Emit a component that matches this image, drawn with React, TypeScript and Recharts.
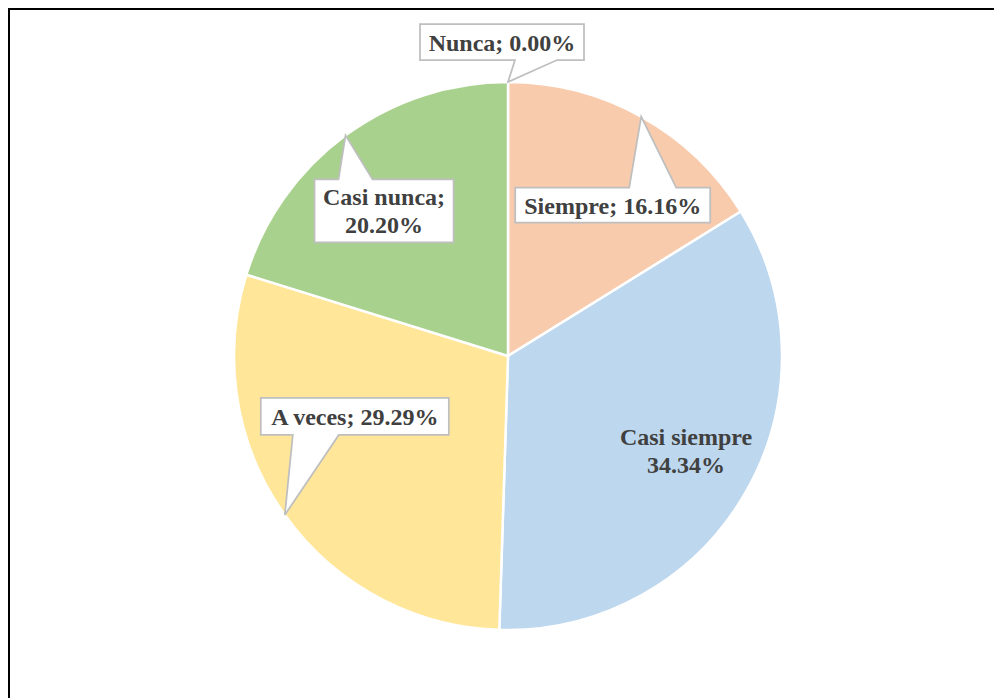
import React from 'react';
import { PieChart, Pie, Cell } from 'recharts';

const categories = ['Siempre', 'Casi siempre', 'A veces', 'Casi nunca', 'Nunca'];
const percentages = [16.16, 34.34, 29.29, 20.2, 0.0];
const colors = ['#F8CBAD', '#BDD7EE', '#FFE699', '#A9D18E', '#9DC3E6'];

const data = categories.map((name, i) => ({ name, value: percentages[i] }));

const RAD = Math.PI / 180;
const FONT = '"Liberation Serif", "Times New Roman", serif';
const TEXT_COLOR = '#404040';
const FS = 24;

type Callout = {
  left: number;
  top: number;
  w: number;
  h: number;
  side: 'top' | 'bottom';
  b1: number;
  b2: number;
  lines: (p: string) => string[];
};

const fmt = (v: number) => v.toFixed(2) + '%';

const callouts: Record<string, Callout> = {
  Nunca: { left: -88, top: -58, w: 164, h: 36, side: 'bottom', b1: 95, b2: 137, lines: (p) => ['Nunca; ' + p] },
  Siempre: { left: -126, top: 71, w: 195, h: 35, side: 'top', b1: 114, b2: 161, lines: (p) => ['Siempre; ' + p] },
  'Casi nunca': { left: -31, top: 44, w: 139, h: 63, side: 'top', b1: 24, b2: 58, lines: (p) => ['Casi nunca;', p] },
  'A veces': { left: -24, top: -117, w: 188, h: 37, side: 'bottom', b1: 32, b2: 78, lines: (p) => ['A veces; ' + p] },
};

const renderLabel = (props: any) => {
  const { cx, cy, midAngle, outerRadius, index } = props;
  const name = categories[index];
  const value = percentages[index];
  const p = fmt(value);
  if (name === 'Casi siempre') {
    const tx = cx + 178;
    const ty = cy + 89;
    return (
      <g key={`lbl-${index}`}>
        <text x={tx} y={ty} textAnchor="middle" fontFamily={FONT} fontWeight="bold" fontSize={FS} fill={TEXT_COLOR}>
          {name}
        </text>
        <text x={tx} y={ty + 28} textAnchor="middle" fontFamily={FONT} fontWeight="bold" fontSize={FS} fill={TEXT_COLOR}>
          {p}
        </text>
      </g>
    );
  }
  const c = callouts[name];
  if (!c) return null;
  const tipX = cx + outerRadius * Math.cos(-midAngle * RAD);
  const tipY = cy + outerRadius * Math.sin(-midAngle * RAD);
  const x0 = tipX + c.left;
  const y0 = tipY + c.top;
  const x1 = x0 + c.w;
  const y1 = y0 + c.h;
  let d: string;
  if (c.side === 'top') {
    d = `M${x0},${y0} L${x0 + c.b1},${y0} L${tipX},${tipY} L${x0 + c.b2},${y0} L${x1},${y0} L${x1},${y1} L${x0},${y1} Z`;
  } else {
    d = `M${x0},${y0} L${x1},${y0} L${x1},${y1} L${x0 + c.b2},${y1} L${tipX},${tipY} L${x0 + c.b1},${y1} L${x0},${y1} Z`;
  }
  const lines = c.lines(p);
  const mx = (x0 + x1) / 2;
  const my = (y0 + y1) / 2 + 8.5;
  const start = my - ((lines.length - 1) * 28) / 2;
  return (
    <g key={`lbl-${index}`}>
      <path d={d} fill="#FFFFFF" stroke="#BFBFBF" strokeWidth={1.75} strokeLinejoin="miter" />
      {lines.map((ln, i) => (
        <text
          key={i}
          x={mx}
          y={start + i * 28}
          textAnchor="middle"
          fontFamily={FONT}
          fontWeight="bold"
          fontSize={FS}
          fill={TEXT_COLOR}
        >
          {ln}
        </text>
      ))}
    </g>
  );
};

export default function App() {
  return (
    <div
      style={{
        width: 994,
        height: 690,
        boxSizing: 'border-box',
        borderTop: '2px solid #000',
        borderLeft: '2px solid #000',
        background: '#fff',
        overflow: 'hidden',
      }}
    >
      <PieChart width={992} height={688} margin={{ top: 0, right: 0, bottom: 0, left: 0 }}>
        <Pie
          data={data}
          dataKey="value"
          nameKey="name"
          cx={498}
          cy={346}
          outerRadius={274}
          startAngle={90}
          endAngle={-270}
          stroke="#FFFFFF"
          strokeWidth={2.5}
          label={renderLabel}
          labelLine={false}
          isAnimationActive={false}
        >
          {data.map((d, i) => (
            <Cell key={d.name} fill={colors[i]} />
          ))}
        </Pie>
      </PieChart>
    </div>
  );
}
